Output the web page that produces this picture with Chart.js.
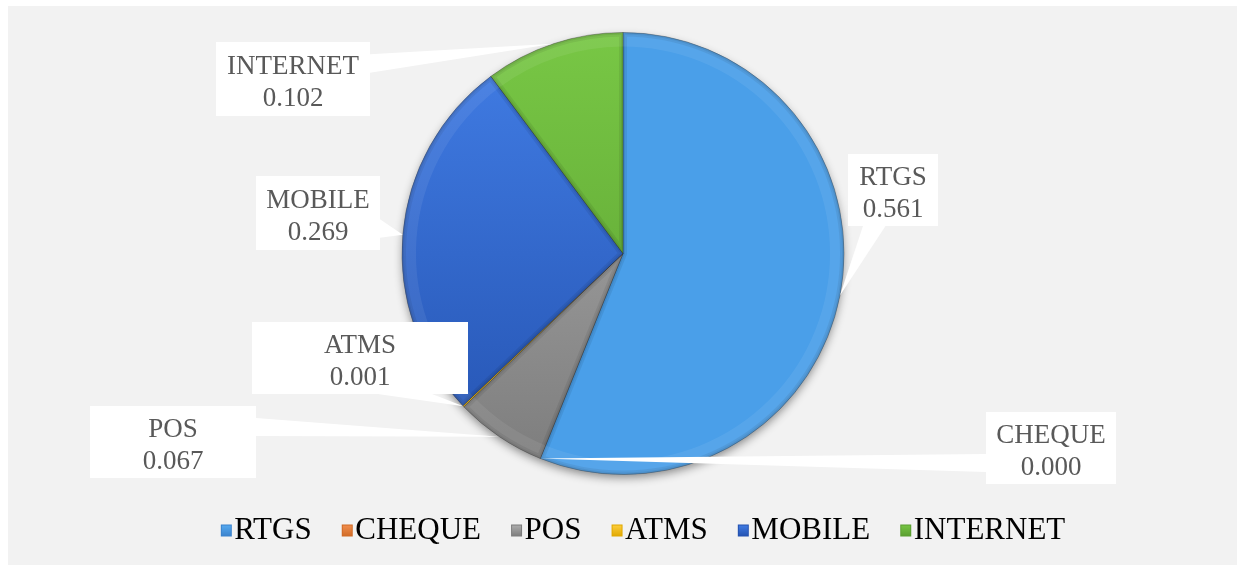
<!DOCTYPE html>
<html>
<head>
<meta charset="utf-8">
<script src="https://cdn.jsdelivr.net/npm/chart.js@4/dist/chart.umd.min.js"></script>
<style>
  html, body { margin: 0; padding: 0; background: #ffffff; }
  canvas { display: block; }
</style>
</head>
<body>
<canvas id="c" width="1237" height="565"></canvas>
<script>
// ---- data ----
const categories = ['RTGS', 'CHEQUE', 'POS', 'ATMS', 'MOBILE', 'INTERNET'];
const shares = [0.561, 0.000, 0.067, 0.001, 0.269, 0.102];

// ---- style ----
const solidColors = ['#4a9fe9', '#ed7d31', '#909090', '#ffc000', '#2f63c9', '#6dbb3a'];
const gradTop     = ['#57acf2', '#f39050', '#b0b0b0', '#ffd040', '#427ee6', '#78c745'];
const gradBottom  = ['#3a82cc', '#d06a25', '#7c7c7c', '#e0a800', '#2452b0', '#5a9e30'];
const labelFont = '27px "Liberation Serif", "Times New Roman", serif';
const labelColor = '#595959';
const legendFontSize = 31;
const legendShiftX = 19;
const legendShiftY = 2;

// callout boxes (layout only): left, top, width, height
const calloutBoxes = [
  {x: 848, y: 154, w: 90,  h: 72},   // RTGS
  {x: 986, y: 412, w: 130, h: 72},   // CHEQUE
  {x: 90,  y: 406, w: 166, h: 72},   // POS
  {x: 252, y: 322, w: 216, h: 72},   // ATMS
  {x: 256, y: 176, w: 124, h: 74},   // MOBILE
  {x: 216, y: 42,  w: 154, h: 74}    // INTERNET
];

// legend marker images: a small bevelled square placed just left of the text
function makeMarker(i) {
  const cv = document.createElement('canvas');
  cv.width = 60; cv.height = 14;
  const c = cv.getContext('2d');
  const half = legendFontSize / 2;
  const x0 = Math.round(30 + half - 3 - 11);
  const g = c.createLinearGradient(0, 1, 0, 13);
  g.addColorStop(0, gradTop[i]);
  g.addColorStop(1, gradBottom[i]);
  c.fillStyle = g;
  c.fillRect(x0, 1, 11, 12);
  c.strokeStyle = gradBottom[i];
  c.lineWidth = 1;
  c.strokeRect(x0 + 0.5, 1.5, 10, 11);
  return cv;
}

const panelPlugin = {
  id: 'panel',
  afterLayout(chart) {
    const lg = chart.legend;
    if (lg) {
      lg.left += legendShiftX; lg.right += legendShiftX;
      lg.top += legendShiftY; lg.bottom += legendShiftY;
    }
  },
  beforeDraw(chart) {
    const ctx = chart.ctx;
    ctx.save();
    ctx.fillStyle = '#ffffff';
    ctx.fillRect(0, 0, chart.width, chart.height);
    ctx.fillStyle = '#f2f2f2';
    ctx.fillRect(8, 6, chart.width - 8, chart.height - 6);
    ctx.restore();
  },
  beforeDatasetsDraw(chart) {
    const meta = chart.getDatasetMeta(0);
    const a = meta.data[0];
    if (!a) return;
    const ctx = chart.ctx;
    ctx.save();
    ctx.shadowColor = 'rgba(0,0,0,0.45)';
    ctx.shadowBlur = 10;
    ctx.shadowOffsetY = 4;
    ctx.fillStyle = '#7a7a7a';
    ctx.beginPath();
    ctx.arc(a.x, a.y, a.outerRadius - 1, 0, Math.PI * 2);
    ctx.fill();
    ctx.restore();
  },
  afterDatasetsDraw(chart) {
    // soft bevel: darken slice edges slightly from inside
    const ctx = chart.ctx;
    const meta = chart.getDatasetMeta(0);
    meta.data.forEach((arc) => {
      if (arc.endAngle - arc.startAngle < 0.01) return;
      ctx.save();
      ctx.beginPath();
      ctx.moveTo(arc.x, arc.y);
      ctx.arc(arc.x, arc.y, arc.outerRadius, arc.startAngle, arc.endAngle);
      ctx.closePath();
      ctx.clip();
      ctx.lineJoin = 'round';
      ctx.strokeStyle = 'rgba(0,0,0,0.07)';
      ctx.lineWidth = 8;
      ctx.stroke();
      ctx.lineWidth = 4;
      ctx.stroke();
      ctx.strokeStyle = 'rgba(255,255,255,0.07)';
      ctx.lineWidth = 14;
      ctx.beginPath();
      ctx.arc(arc.x, arc.y, arc.outerRadius - 7, arc.startAngle, arc.endAngle);
      ctx.stroke();
      ctx.restore();
    });
  }
};

const calloutPlugin = {
  id: 'callouts',
  afterDatasetsDraw(chart) {
    const ctx = chart.ctx;
    const meta = chart.getDatasetMeta(0);
    ctx.save();
    meta.data.forEach((arc, i) => {
      const b = calloutBoxes[i];
      const mid = (arc.startAngle + arc.endAngle) / 2;
      const tx = arc.x + Math.cos(mid) * arc.outerRadius;
      const ty = arc.y + Math.sin(mid) * arc.outerRadius;
      const cx = b.x + b.w / 2, cy = b.y + b.h / 2;
      const nx = (tx - cx) / (b.w / 2), ny = (ty - cy) / (b.h / 2);
      let p1, p2;
      if (Math.abs(nx) > Math.abs(ny)) {
        const sx = nx > 0 ? b.x + b.w : b.x;
        const f = ty < cy ? [2 / 12, 5 / 12] : [7 / 12, 10 / 12];
        p1 = [sx, b.y + b.h * f[0]];
        p2 = [sx, b.y + b.h * f[1]];
      } else {
        const sy = ny > 0 ? b.y + b.h : b.y;
        const f = tx < cx ? [2 / 12, 5 / 12] : [7 / 12, 10 / 12];
        p1 = [b.x + b.w * f[0], sy];
        p2 = [b.x + b.w * f[1], sy];
      }
      ctx.fillStyle = '#ffffff';
      ctx.beginPath();
      ctx.moveTo(p1[0], p1[1]);
      ctx.lineTo(tx, ty);
      ctx.lineTo(p2[0], p2[1]);
      ctx.closePath();
      ctx.fill();
      ctx.fillRect(b.x, b.y, b.w, b.h);
      ctx.fillStyle = labelColor;
      ctx.font = labelFont;
      ctx.textAlign = 'center';
      ctx.textBaseline = 'alphabetic';
      const v = chart.data.datasets[0].data[i];
      ctx.fillText(chart.data.labels[i], cx, cy - 5);
      ctx.fillText(v.toFixed(3), cx, cy + 27);
    });
    ctx.restore();
  }
};

function sliceFill(context) {
  const chart = context.chart;
  const i = context.dataIndex;
  const meta = chart.getDatasetMeta(0);
  const a = meta.data[0];
  if (!a || !a.outerRadius) return solidColors[i];
  const g = chart.ctx.createLinearGradient(0, a.y - a.outerRadius, 0, a.y + a.outerRadius);
  g.addColorStop(0, gradTop[i]);
  g.addColorStop(1, gradBottom[i]);
  return g;
}

const markers = categories.map((_, i) => makeMarker(i));

new Chart(document.getElementById('c'), {
  type: 'pie',
  data: {
    labels: categories,
    datasets: [{
      data: shares,
      backgroundColor: sliceFill,
      borderColor: 'rgba(40,40,40,0.35)',
      borderWidth: 1
    }]
  },
  options: {
    responsive: false,
    devicePixelRatio: 1,
    animation: false,
    radius: 221,
    layout: { padding: { top: 22, left: 9, right: 0, bottom: 11 } },
    plugins: {
      tooltip: { enabled: false },
      legend: {
        position: 'bottom',
        labels: {
          font: { family: '"Liberation Serif", "Times New Roman", serif', size: legendFontSize },
          color: '#000000',
          usePointStyle: true,
          pointStyleWidth: 0.1,
          boxHeight: 14,
          padding: 28,
          generateLabels(chart) {
            return chart.data.labels.map((l, i) => ({
              text: l,
              fillStyle: solidColors[i],
              strokeStyle: gradBottom[i],
              lineWidth: 0,
              pointStyle: markers[i],
              hidden: false,
              index: i
            }));
          }
        }
      }
    }
  },
  plugins: [panelPlugin, calloutPlugin]
});
</script>
</body>
</html>
